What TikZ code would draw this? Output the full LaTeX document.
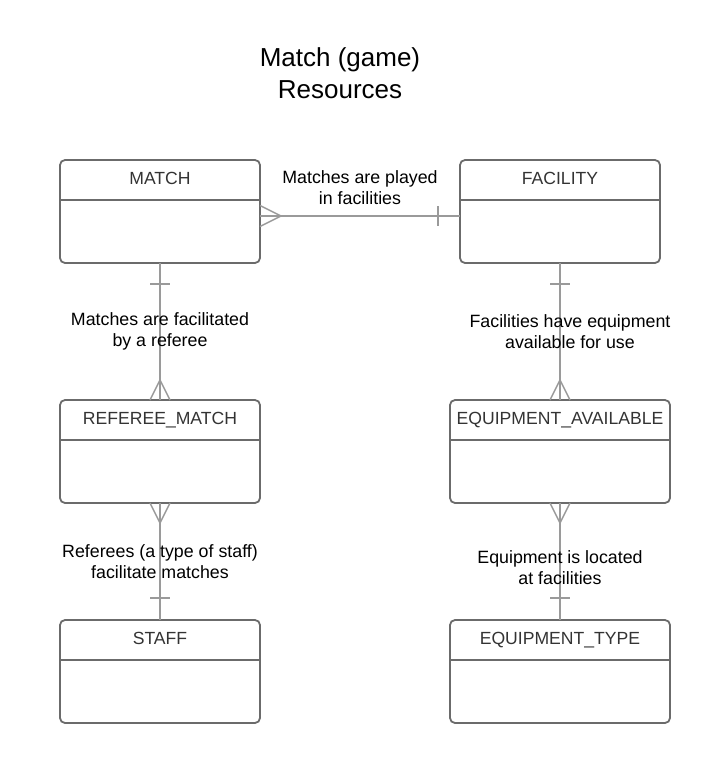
\documentclass[tikz,border=0pt]{standalone}
\usepackage{fontspec}
\setmainfont{Liberation Sans}
\usetikzlibrary{positioning, calc}
\definecolor{erborder}{HTML}{6B6B6B}
\definecolor{erlink}{HTML}{9A9A9A}
\definecolor{erhead}{HTML}{333333}

\begin{document}
\begin{tikzpicture}[
  x=1pt, y=-1pt,
  node distance = 137pt and 200pt,
  entity/.style     = {draw=erborder, line width=1.8pt, rounded corners=5pt,
                       minimum width=200pt, minimum height=103pt,
                       inner sep=0pt, outer sep=0pt},
  wideentity/.style = {entity, minimum width=220pt},
  divider/.style    = {draw=erborder, line width=1.8pt},
  head/.style       = {font=\fontsize{17.6}{20}\selectfont, text=erhead, anchor=base},
  link/.style       = {draw=erlink, line width=1.5pt},
  rel/.style        = {font=\fontsize{17.8}{21}\selectfont, align=center, inner sep=0pt},
  title/.style      = {font=\fontsize{26}{32}\selectfont, align=center}
]
\useasboundingbox (0,0) rectangle (720,764);

% Title
\node[title] (title) at (340,73) {Match (game)\\Resources};

% Entities
\node[entity] (match) at (160,211.5) {};
\node[entity, right=of match] (facility) {};
\node[entity, below=of match] (refmatch) {};
\node[wideentity, below=of facility] (equipavail) {};
\node[entity, below=117pt of refmatch] (staff) {};
\node[wideentity, below=117pt of equipavail] (equiptype) {};

% Headers and dividers
\foreach \e/\t in {match/MATCH, facility/FACILITY, refmatch/REFEREE\_MATCH,
                   equipavail/EQUIPMENT\_AVAILABLE, staff/STAFF,
                   equiptype/EQUIPMENT\_TYPE} {
  \node[head] (\e-head) at ([yshift=-24pt]\e.north) {\t};
  \draw[divider] ([yshift=-40pt]\e.north west) -- ([yshift=-40pt]\e.north east);
}

% Match -- Facility
\draw[link] ([yshift=-4.5pt]match.east) coordinate (mf-a)
  -- node[rel, above=11pt] (played) {Matches are played\\in facilities}
  ([yshift=-4.5pt]facility.west) coordinate (mf-b);
\draw[link] ([yshift=10.5pt]mf-a) -- ([xshift=21pt]mf-a) -- ([yshift=-10.5pt]mf-a);
\draw[link] ([xshift=-22pt, yshift=10pt]mf-b) -- ([xshift=-22pt, yshift=-10pt]mf-b);

% Match -- Referee match
\draw[link] (match.south) -- node[rel] (refereed) {Matches are facilitated\\by a referee} (refmatch.north);
\draw[link] ([xshift=-10pt, yshift=-21pt]match.south) -- ([xshift=10pt, yshift=-21pt]match.south);
\draw[link] ([xshift=-10pt]refmatch.north) -- ([yshift=20pt]refmatch.north) -- ([xshift=10pt]refmatch.north);

% Referee match -- Staff
\draw[link] (refmatch.south) -- node[rel] (facilitate) {Referees (a type of staff)\\facilitate matches} (staff.north);
\draw[link] ([xshift=-10pt]refmatch.south) -- ([yshift=-20pt]refmatch.south) -- ([xshift=10pt]refmatch.south);
\draw[link] ([xshift=-10pt, yshift=22pt]staff.north) -- ([xshift=10pt, yshift=22pt]staff.north);

% Facility -- Equipment available
\draw[link] (facility.south) -- node[rel, xshift=10pt] (haveequip) {Facilities have equipment\\available for use} (equipavail.north);
\draw[link] ([xshift=-10pt, yshift=-21pt]facility.south) -- ([xshift=10pt, yshift=-21pt]facility.south);
\draw[link] ([xshift=-10pt]equipavail.north) -- ([yshift=20pt]equipavail.north) -- ([xshift=10pt]equipavail.north);

% Equipment available -- Equipment type
\draw[link] (equipavail.south) -- node[rel, yshift=-6pt] (located) {Equipment is located\\at facilities} (equiptype.north);
\draw[link] ([xshift=-10pt]equipavail.south) -- ([yshift=-20pt]equipavail.south) -- ([xshift=10pt]equipavail.south);
\draw[link] ([xshift=-10pt, yshift=22pt]equiptype.north) -- ([xshift=10pt, yshift=22pt]equiptype.north);

\end{tikzpicture}
\end{document}
